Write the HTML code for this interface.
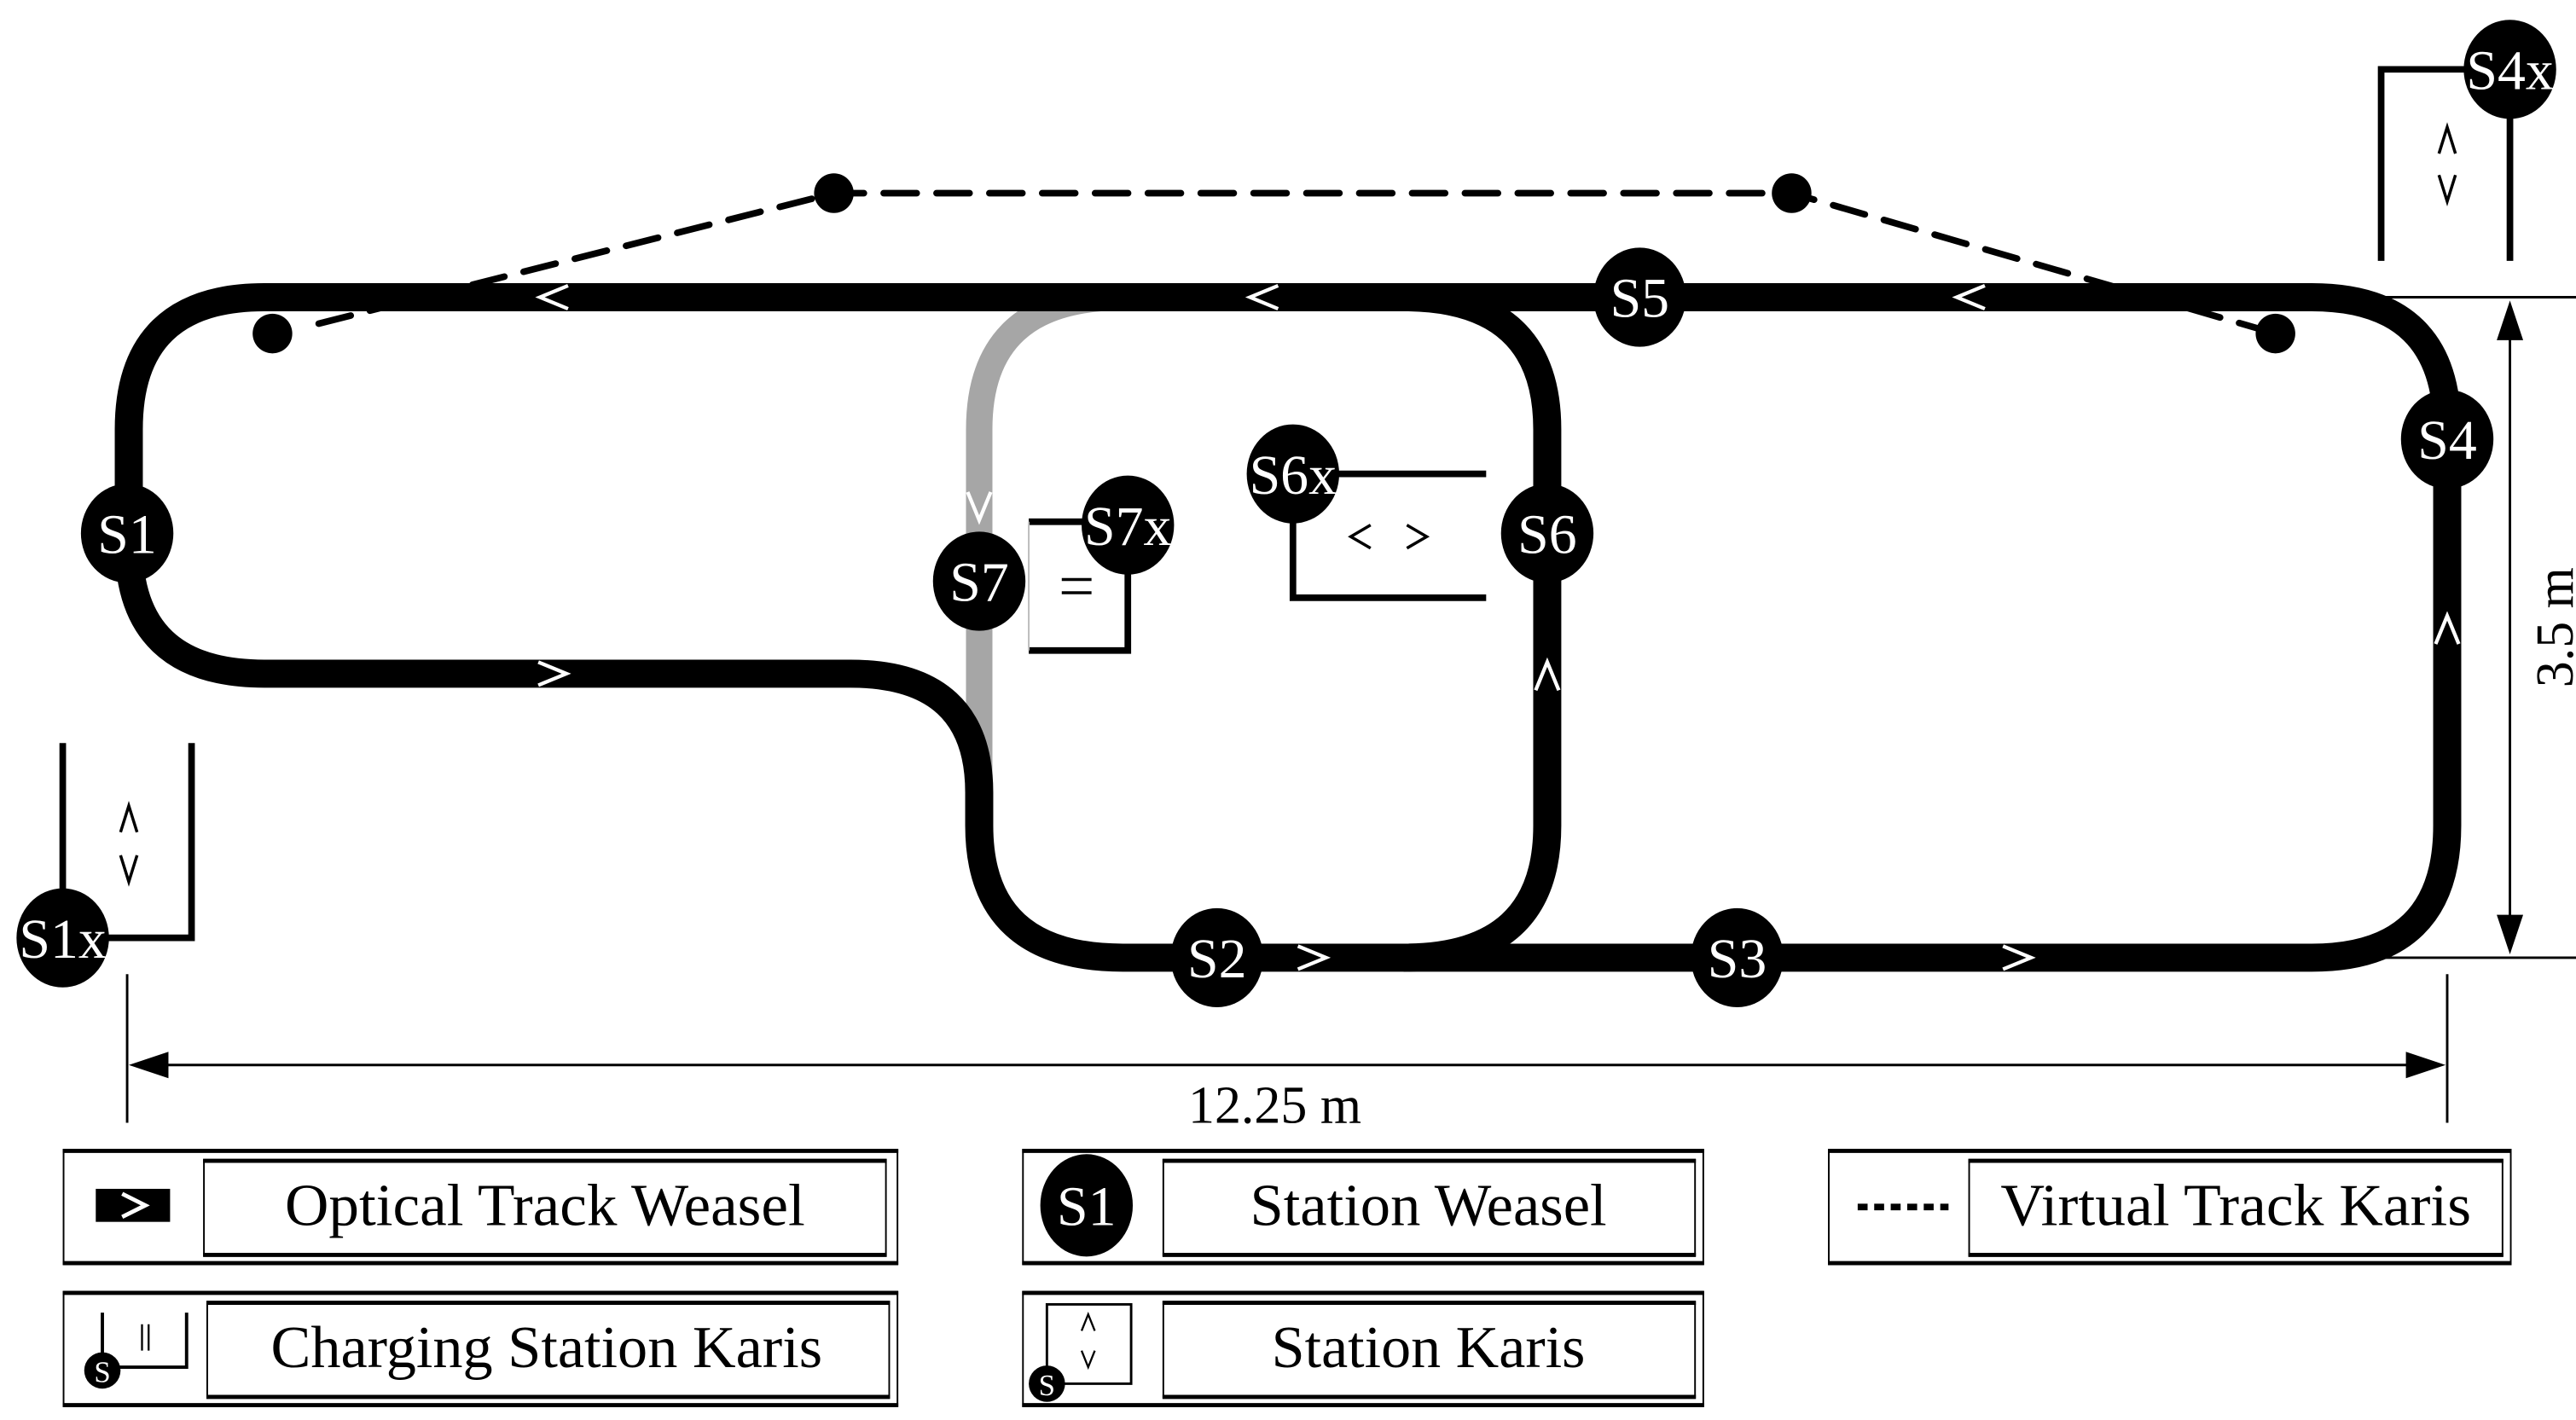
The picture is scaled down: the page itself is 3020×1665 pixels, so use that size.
<!DOCTYPE html>
<html><head><meta charset="utf-8"><style>
html,body{margin:0;padding:0;background:#fff;}
svg{display:block;}
text{font-family:"Liberation Serif",serif;}
</style></head><body>
<svg width="3020" height="1665" viewBox="0 0 1560 860" preserveAspectRatio="none" xmlns="http://www.w3.org/2000/svg">
<rect width="1560" height="860" fill="#fff"/>
<g stroke="#000" stroke-width="4" stroke-dasharray="20 12" fill="none" stroke-linecap="round">
<path d="M193,196 L505,117 L1085,117 L1378,202"/>
</g>
<g fill="#000">
<circle cx="165" cy="202" r="12"/><circle cx="505" cy="117" r="12"/>
<circle cx="1085" cy="117" r="12"/><circle cx="1378" cy="202" r="12"/>
</g>
<path d="M680,180 Q593,180 593,260 L593,475" stroke="#a6a6a6" stroke-width="16" fill="none"/>
<g stroke="#000" stroke-width="17" fill="none">
<path d="M160,180 L1400,180 Q1482,180 1482,260 L1482,500 Q1482,580 1400,580 L680,580 Q593,580 593,500 L593,480 Q593,408 515,408 L160,408 Q78,408 78,330 L78,260 Q78,180 160,180 Z"/>
<path d="M850,180 Q937,180 937,260 L937,500 Q937,580 850,580"/>
</g>
<!-- chevrons -->
<g stroke="#fff" stroke-width="2.2" fill="none">
<path d="M344,173 L327,180 L344,187"/><path d="M774,173 L757,180 L774,187"/><path d="M1202,173 L1185,180 L1202,187"/>
<path d="M326,401 L343,408 L326,415"/><path d="M786,573 L803,580 L786,587"/><path d="M1213,573 L1230,580 L1213,587"/>
<path d="M930,418 L937,401 L944,418"/><path d="M1475,390 L1482,373 L1489,390"/>
<path d="M586,298 L593,315 L600,298"/>
</g>
<g stroke="#000" stroke-width="4" fill="none">
<path d="M683,318 L683,394 L623,394"/><path d="M623,316 L683,316"/>
<path d="M783,287 L900,287 M783,287 L783,362 L900,362"/>
<path d="M38,450 L38,568 M116,450 L116,568 L60,568"/>
<path d="M1442,158 L1442,42 L1520,42 M1520,42 L1520,158"/>
</g>
<path d="M623,316 L623,394" stroke="#bbb" stroke-width="1"/>
<g stroke="#000" stroke-width="1.8" fill="none">
<path d="M73,504 L78,488 L83,504"/><path d="M73,518 L78,534 L83,518"/>
<path d="M1477,93 L1482,77 L1487,93"/><path d="M1477,106 L1482,122 L1487,106"/>
<path d="M830,318 L818,325 L830,332"/><path d="M852,318 L864,325 L852,332"/>
<path d="M643,351 H661 M643,359 H661"/>
</g>
<g fill="#000">
<ellipse cx="77" cy="323" rx="28" ry="30"/><ellipse cx="737" cy="580" rx="28" ry="30"/>
<ellipse cx="1052" cy="580" rx="28" ry="30"/><ellipse cx="1482" cy="266" rx="28" ry="30"/>
<ellipse cx="993" cy="180" rx="28" ry="30"/><ellipse cx="937" cy="323" rx="28" ry="30"/>
<ellipse cx="593" cy="352" rx="28" ry="30"/><ellipse cx="683" cy="318" rx="28" ry="30"/>
<ellipse cx="783" cy="287" rx="28" ry="30"/><ellipse cx="38" cy="568" rx="28" ry="30"/>
<ellipse cx="1520" cy="42" rx="28" ry="30"/>
</g>
<g fill="#fff" font-size="34" text-anchor="middle">
<text x="77" y="335">S1</text><text x="737" y="592">S2</text><text x="1052" y="592">S3</text>
<text x="1482" y="278">S4</text><text x="993" y="192">S5</text><text x="937" y="335">S6</text>
<text x="593" y="364">S7</text><text x="683" y="330">S7x</text><text x="783" y="299">S6x</text>
<text x="38" y="580">S1x</text><text x="1520" y="54">S4x</text>
</g>
<g stroke="#000" stroke-width="1.5" fill="none">
<path d="M1440,180 L1560,180 M1400,580 L1560,580 M1520,200 L1520,562"/>
<path d="M77,590 L77,680 M1482,590 L1482,680 M95,645 L1464,645"/>
</g>
<g fill="#000">
<path d="M1520,182 L1512,206 L1528,206 Z"/><path d="M1520,578 L1512,554 L1528,554 Z"/>
<path d="M78,645 L102,637 L102,653 Z"/><path d="M1481,645 L1457,637 L1457,653 Z"/>
</g>
<text x="772" y="680" font-size="32" text-anchor="middle">12.25 m</text>
<text transform="translate(1558,380) rotate(-90)" font-size="32" text-anchor="middle">3.5 m</text>
<g fill="#fff" stroke="#000">
<rect x="38.5" y="696.5" width="505" height="69" stroke-width="1"/>
<rect x="123.5" y="702.5" width="413" height="58" stroke-width="1"/>
<rect x="619.5" y="696.5" width="412" height="69" stroke-width="1"/>
<rect x="704.5" y="702.5" width="322" height="58" stroke-width="1"/>
<rect x="1107.5" y="696.5" width="413" height="69" stroke-width="1"/>
<rect x="1192.5" y="702.5" width="323" height="58" stroke-width="1"/>
<rect x="38.5" y="782.5" width="505" height="69" stroke-width="1"/>
<rect x="125.5" y="788.5" width="413" height="58" stroke-width="1"/>
<rect x="619.5" y="782.5" width="412" height="69" stroke-width="1"/>
<rect x="704.5" y="788.5" width="322" height="58" stroke-width="1"/>
</g>
<g stroke="#000" stroke-width="2.5">
<path d="M38,697 H544 M38,765 H544 M123,703 H537 M123,760 H537"/>
<path d="M619,697 H1032 M619,765 H1032 M704,703 H1027 M704,760 H1027"/>
<path d="M1107,697 H1521 M1107,765 H1521 M1192,703 H1516 M1192,760 H1516"/>
<path d="M38,783 H544 M38,851 H544 M125,789 H539 M125,846 H539"/>
<path d="M619,783 H1032 M619,851 H1032 M704,789 H1027 M704,846 H1027"/>
</g>
<g font-size="36" text-anchor="middle" fill="#000">
<text x="330" y="742" textLength="315" lengthAdjust="spacingAndGlyphs">Optical Track Weasel</text>
<text x="865" y="742" textLength="216" lengthAdjust="spacingAndGlyphs">Station Weasel</text>
<text x="1354" y="742" textLength="285" lengthAdjust="spacingAndGlyphs">Virtual Track Karis</text>
<text x="331" y="828" textLength="334" lengthAdjust="spacingAndGlyphs">Charging Station Karis</text>
<text x="865" y="828" textLength="190" lengthAdjust="spacingAndGlyphs">Station Karis</text>
</g>
<rect x="58" y="720" width="45" height="20" fill="#000"/>
<path d="M74,723 L88,730 L74,737" stroke="#fff" stroke-width="2.5" fill="none"/>
<ellipse cx="658" cy="730" rx="28" ry="31" fill="#000"/>
<text x="658" y="742" font-size="34" fill="#fff" text-anchor="middle">S1</text>
<path d="M1125,731 H1180" stroke="#000" stroke-width="4" stroke-dasharray="6 4"/>
<path d="M62,795 L62,828 L113,828 L113,795" stroke="#000" stroke-width="2" fill="none"/>
<path d="M86,802 V818 M90,802 V818" stroke="#000" stroke-width="1.2"/>
<circle cx="62" cy="830" r="11" fill="#000"/><text x="62" y="837" font-size="18" fill="#fff" text-anchor="middle">S</text>
<path d="M634,790 L685,790 L685,838 L634,838 Z" stroke="#000" stroke-width="1.5" fill="none"/>
<path d="M655,806 L659,796 L663,806 M655,818 L659,828 L663,818" stroke="#000" stroke-width="1.2" fill="none"/>
<circle cx="634" cy="838" r="11" fill="#000"/><text x="634" y="845" font-size="18" fill="#fff" text-anchor="middle">S</text>
</svg>
</body></html>
